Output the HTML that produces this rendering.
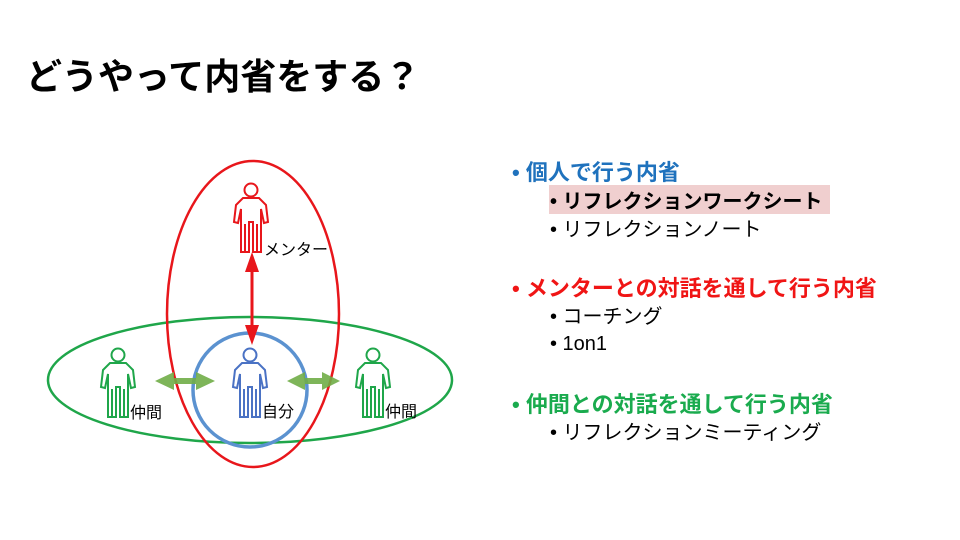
<!DOCTYPE html>
<html><head><meta charset="utf-8"><style>
body{margin:0;width:960px;height:540px;background:#fff;overflow:hidden;position:relative;font-family:"Liberation Sans","Noto Sans CJK JP",sans-serif}
.t{position:absolute;white-space:nowrap}
.h{font-size:22px;font-weight:bold}
.s{font-size:20px;color:#000}
</style></head><body>
<div class="t" style="left:26px;top:48px;font-size:36px;font-weight:bold;color:#000">どうやって内省をする？</div>
<svg width="960" height="540" style="position:absolute;left:0;top:0">
<defs>
<g id="p" fill="none" stroke-width="2">
<circle cx="0" cy="-28" r="6.5"/>
<path d="M-8,-20 H8 L15,-13 L17,4 L13,5 L10,-9 L10,34 H2 V4 H-2 V34 H-10 V-9 L-13,5 L-17,4 L-15,-13 Z"/>
<path d="M-6,6 V33 M6,6 V33"/>
</g>
</defs>
<ellipse cx="250" cy="380" rx="202" ry="63" fill="none" stroke="#1fa64a" stroke-width="2.5"/>
<ellipse cx="253" cy="314" rx="86" ry="153" fill="none" stroke="#e8161b" stroke-width="2.5"/>
<circle cx="250" cy="390" r="57" fill="none" stroke="#5b92d0" stroke-width="3.5"/>
<use href="#p" x="251" y="218" stroke="#e8161b"/>
<use href="#p" x="118" y="383" stroke="#1fa64a"/>
<use href="#p" x="250" y="383" stroke="#4a72c4"/>
<use href="#p" x="373" y="383" stroke="#1fa64a"/>
<line x1="252" y1="262" x2="252" y2="336" stroke="#e8161b" stroke-width="3"/>
<polygon points="252,252 245,272 259,272" fill="#e8161b"/>
<polygon points="252,345 245,325 259,325" fill="#e8161b"/>
<g fill="#70ad47" opacity="0.9">
<polygon points="155,381 174,372 174,378 196,378 196,372 215,381 196,390 196,384 174,384 174,390"/>
<polygon points="287,381 305,372 305,378 322,378 322,372 340,381 322,390 322,384 305,384 305,390"/>
</g>
</svg>
<div class="t" style="left:264px;top:236px;font-size:16px">メンター</div>
<div class="t" style="left:130px;top:399px;font-size:16px">仲間</div>
<div class="t" style="left:262px;top:398px;font-size:16px">自分</div>
<div class="t" style="left:385px;top:398px;font-size:16px">仲間</div>
<div style="position:absolute;left:549px;top:185px;width:281px;height:29px;background:#f0cfcf"></div>
<div class="t h" style="left:512px;top:155px;color:#1f72bd">• 個人で行う内省</div>
<div class="t s" style="left:550px;top:185px;font-weight:bold">• リフレクションワークシート</div>
<div class="t s" style="left:550px;top:213px">• リフレクションノート</div>
<div class="t h" style="left:512px;top:271px;color:#f01515">• メンターとの対話を通して行う内省</div>
<div class="t s" style="left:550px;top:300px">• コーチング</div>
<div class="t s" style="left:550px;top:333px">• 1on1</div>
<div class="t h" style="left:512px;top:387px;color:#1aab4e">• 仲間との対話を通して行う内省</div>
<div class="t s" style="left:550px;top:416px">• リフレクションミーティング</div>
</body></html>
